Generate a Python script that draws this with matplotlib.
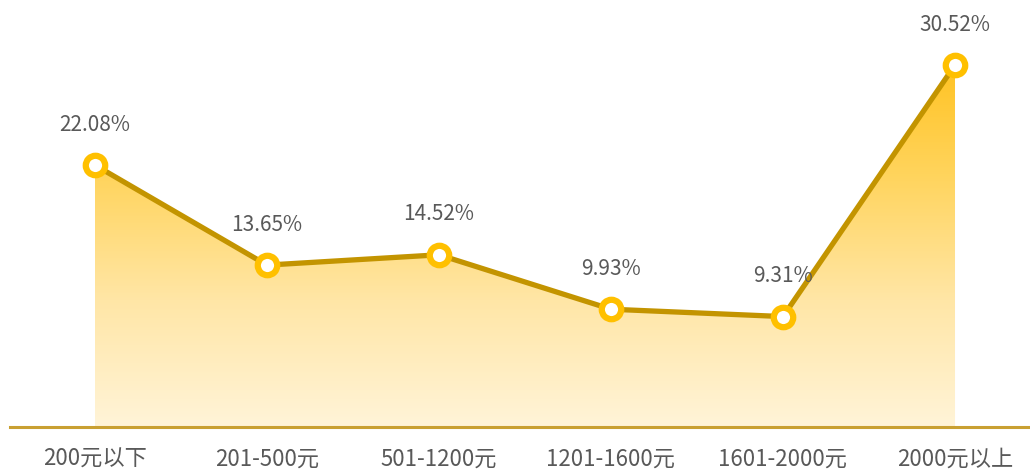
import numpy as np
import matplotlib
matplotlib.use('Agg')
import matplotlib.pyplot as plt
from matplotlib.colors import LinearSegmentedColormap

plt.rcParams['font.family'] = ['Noto Sans CJK SC', 'DejaVu Sans']

categories = ['200元以下', '201-500元', '501-1200元', '1201-1600元', '1601-2000元', '2000元以上']
shares = [22.08, 13.65, 14.52, 9.93, 9.31, 30.52]
labels = ['22.08%', '13.65%', '14.52%', '9.93%', '9.31%', '30.52%']

line_color = '#C39400'
marker_color = '#FFC000'
axis_color = '#C9A032'
text_color = '#595959'

fig = plt.figure(figsize=(10.30, 4.72), dpi=100)
ax = fig.add_axes([10 / 1030, 45 / 472, 1020 / 1030, 427 / 472])

x = np.arange(len(categories))
ymax = 36.0
ax.set_xlim(-0.494, 5.436)
ax.set_ylim(0, ymax)

# gradient fill under the line
cmap = LinearSegmentedColormap.from_list('gold', ['#FFF4D8', '#FFE6A6', '#FFD45C', '#FFC01A'])
grad = np.linspace(0, 1, 256).reshape(-1, 1)
img = ax.imshow(grad, cmap=cmap, origin='lower', aspect='auto',
                extent=[x[0], x[-1], 0, 32], zorder=1)
poly = ax.fill_between(x, shares, 0, color='none', lw=0)
clip = poly.get_paths()[0]
img.set_clip_path(clip, transform=ax.transData)

ax.plot(x, shares, color=line_color, lw=3.8, zorder=3, solid_capstyle='round')
ax.plot(x, shares, 'o', ms=14, mfc='white', mec=marker_color, mew=4.5, zorder=4)

for xi, yi, lab in zip(x, shares, labels):
    ax.annotate(lab, (xi, yi), xytext=(0, 29), textcoords='offset points',
                ha='center', va='center', fontsize=15, color=text_color, zorder=5)

ax.set_xticks(x)
ax.set_xticklabels(categories, fontsize=16, color=text_color)
ax.tick_params(axis='x', length=0, pad=15)
ax.set_yticks([])
for side in ['top', 'right', 'left']:
    ax.spines[side].set_visible(False)
ax.spines['bottom'].set_color(axis_color)
ax.spines['bottom'].set_linewidth(2.2)

fig.savefig('out.png', dpi=100)
